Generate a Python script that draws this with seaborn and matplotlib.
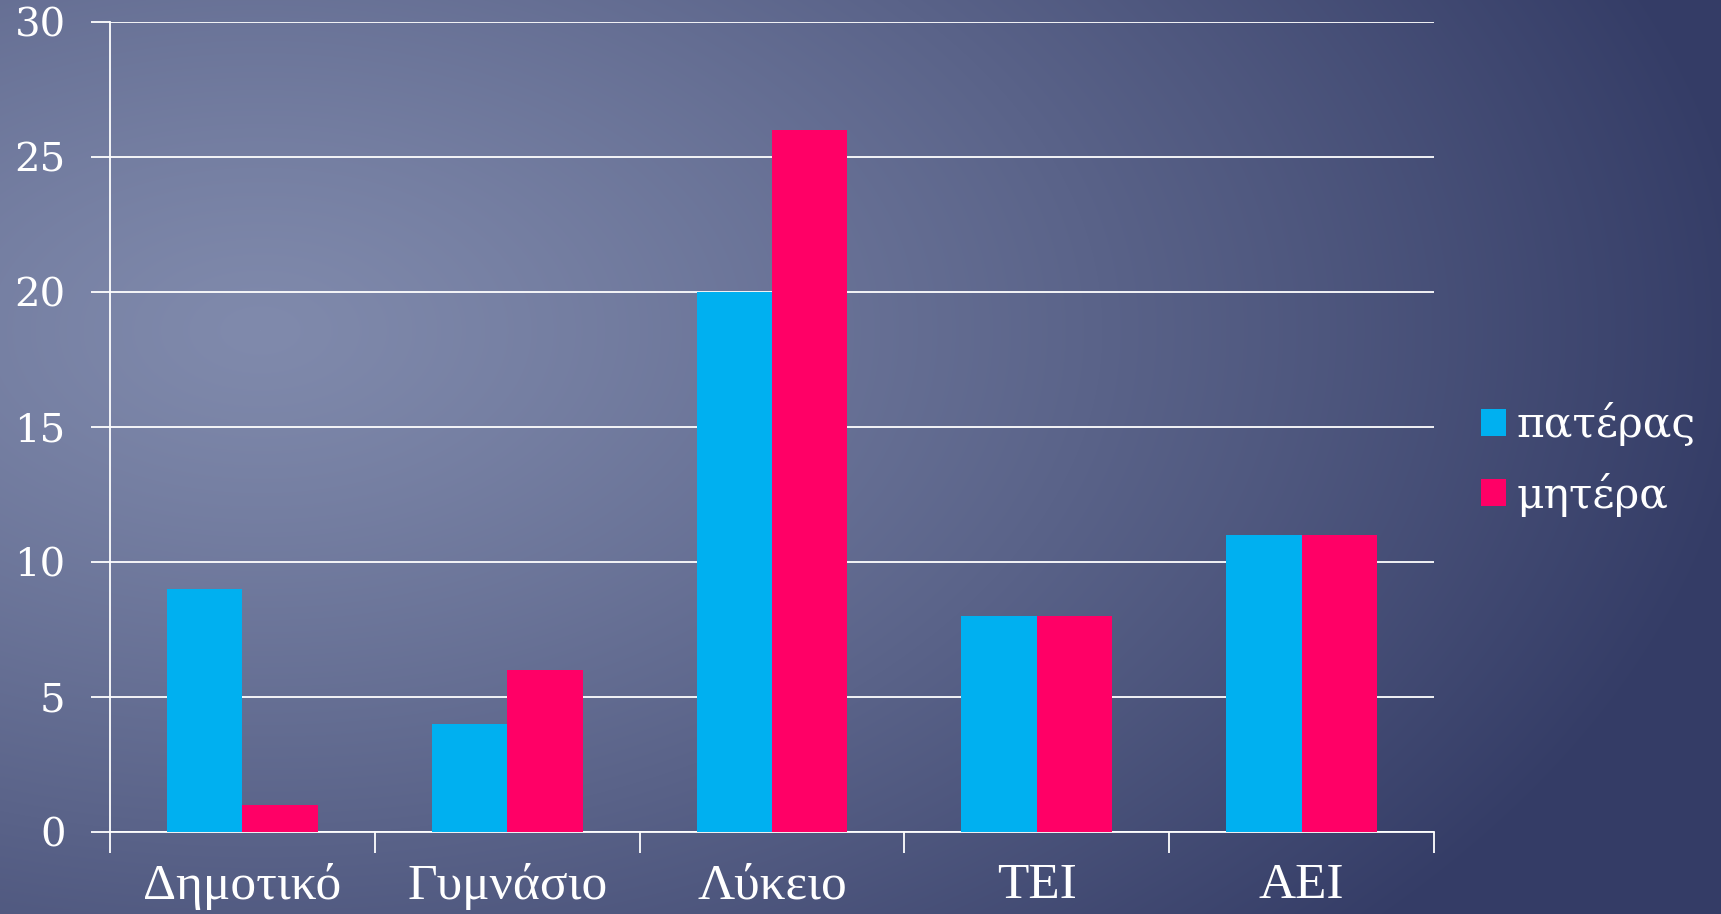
import numpy as np
import pandas as pd
import matplotlib
matplotlib.use("Agg")
import matplotlib.pyplot as plt
import seaborn as sns

categories = ["Δημοτικό", "Γυμνάσιο", "Λύκειο", "TEI", "AEI"]
father = [9, 4, 20, 8, 11]
mother = [1, 6, 26, 8, 11]
series_names = ["πατέρας", "μητέρα"]
yticks = [0, 5, 10, 15, 20, 25, 30]

df = pd.DataFrame({
    "cat": categories * 2,
    "val": father + mother,
    "series": [series_names[0]] * len(categories) + [series_names[1]] * len(categories),
})

sns.set_theme(style="white")
plt.rcParams["font.family"] = ["Liberation Serif", "DejaVu Serif"]

W, H = 1721, 914
fig = plt.figure(figsize=(W / 100, H / 100), dpi=100)

# background gradient
bg = fig.add_axes([0, 0, 1, 1], zorder=-10)
yy, xx = np.mgrid[0:H, 0:W]
cx, cy, rx, ry = 260, 330, 1500, 900
t = np.sqrt(((xx - cx) / rx) ** 2 + ((yy - cy) / ry) ** 2)
t = np.clip(t, 0, 1) ** 1.2
light = np.array([128, 138, 172]) / 255
dark = np.array([52, 60, 102]) / 255
img = light[None, None, :] * (1 - t[..., None]) + dark[None, None, :] * t[..., None]
bg.imshow(img, aspect="auto", extent=[0, 1, 0, 1], origin="upper")
bg.axis("off")

ax = fig.add_axes([110 / W, 1 - 832 / H, (1434 - 110) / W, (832 - 22) / H])
ax.set_facecolor("none")
sns.barplot(data=df, x="cat", y="val", hue="series", order=categories,
            palette=["#00B0F0", "#FF0066"], saturation=1, width=0.57,
            ax=ax, zorder=3, edgecolor="none", linewidth=0)

ax.set_ylim(0, 30)
ax.set_xlim(-0.5, len(categories) - 0.5)
ax.set_yticks(yticks)
ax.set_yticklabels([str(v) for v in yticks], fontsize=29, color="white",
                   family=["DejaVu Serif"])
ax.yaxis.grid(True, color="white", linewidth=1.3, zorder=1)
ax.set_axisbelow(True)
ax.tick_params(axis="y", length=14, width=1.3, color="white", pad=18, left=True)
ax.set_xticks(range(len(categories)))
ax.set_xticklabels(categories, fontsize=37, color="white")
ax.tick_params(axis="x", which="major", length=0, pad=22)
ax.set_xticks(np.arange(-0.5, len(categories), 1.0), minor=True)
ax.tick_params(axis="x", which="minor", length=15, width=1.3, color="white", bottom=True)
ax.set_xlabel("")
ax.set_ylabel("")
for s in ["top", "right"]:
    ax.spines[s].set_visible(False)
for s in ["left", "bottom"]:
    ax.spines[s].set_color("white")
    ax.spines[s].set_linewidth(1.3)

leg = ax.legend(loc="center left", bbox_to_anchor=(1.0, 0.46), frameon=False,
                prop={"family": ["DejaVu Serif"], "size": 30.5},
                handlelength=0.6, handleheight=0.6, handletextpad=0.25,
                labelspacing=0.62, borderaxespad=0.7)
for txt in leg.get_texts():
    txt.set_color("white")

fig.savefig("out.png", dpi=100)
